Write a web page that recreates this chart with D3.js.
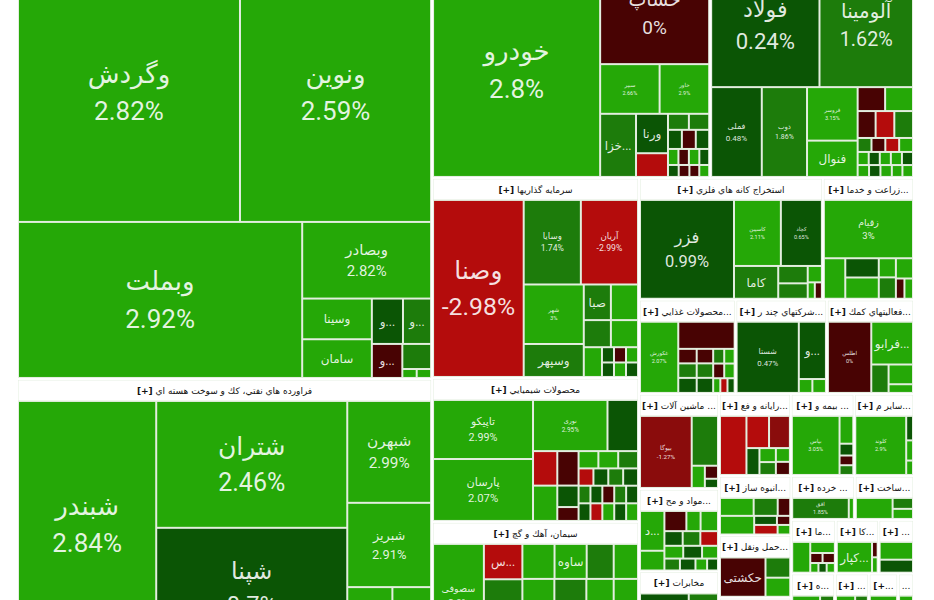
<!DOCTYPE html>
<html>
<head>
<meta charset="utf-8">
<script src="https://cdn.jsdelivr.net/npm/d3@7"></script>
<style>
  html, body { margin: 0; padding: 0; background: #fff; }
  svg { display: block; }
</style>
</head>
<body>
<svg id="map" width="934" height="600"></svg>
<script>
// sectors (TSE industry groups), index = position in these arrays
var sectorNames = [
  "بانكها و موسسات اعتباري", "فراورده هاي نفتي، كك و سوخت هسته اي", "خودرو و ساخت قطعات", "فلزات اساسي",
  "سرمايه گذاريها", "محصولات شيميايي", "سيمان، آهك و گچ", "استخراج كانه هاي فلزي", "زراعت و خدمات وابسته",
  "محصولات غذايي و آشاميدني", "شركتهاي چند رشته اي صنعتي", "فعاليتهاي كمكي به نهادهاي مالي",
  "ماشين آلات و دستگاههاي برقي", "مواد و محصولات دارويي", "مخابرات", "رايانه و فعاليتهاي وابسته",
  "بيمه و صندوق بازنشستگي", "ساير محصولات كاني غيرفلزي", "انبوه سازي، املاك و مستغلات",
  "حمل ونقل، انبارداري و ارتباطات", "خدمات فني و مهندسي", "خرده فروشي", "ساخت محصولات فلزي",
  "ماشين آلات و تجهيزات", "كاشي و سراميك", "لاستيك و پلاستيك", "هتل و رستوران", "استخراج نفت",
  "منسوجات", "انتشار، چاپ و تكثير"
];
var sectorCaps = [1818, 1121, 659, 483, 414, 298, 263, 224, 111, 91, 86, 82, 76, 66, 62, 59, 52, 49,
  43, 45, 37, 28, 26, 24, 23, 19, 33, 25.5, 22, 12];
// nested groups of sectors; every level flips between columns and rows
var sectorNesting = [[0, 1], [[2, 3], [[4, 5, 6], [[7, 8], [9, 10, 11], [[12, 13, 14], [[15, 16, 17], [[18, 19, 20], [[21, 22], [23, 24, 25], [26, 27, 28, 29]]]]]]]]];

// tickers of each sector (names missing = unlabelled small symbols)
var tickerNames = [
  ["وگردش", "ونوین", "وبملت", "وبصادر", "وسینا", "سامان", "وسپه", "وکارآفر", "وسرمد"],
  ["شبندر", "شتران", "شپنا", "شبهرن", "شبریز"],
  ["خودرو", "حساپ", "سیپر", "خاور", "خزامیا", "ورنا"],
  ["فولاد", "آلومینا", "فملی", "ذوب", "فروسر", "فنوال"],
  ["وصنا", "وسایا", "آریان", "شهر", "وسپهر", "صبا"],
  ["تاپیکو", "پارسان", "نوری"],
  ["سصوفی", "سصفها", "سشرق", "", "ساوه"],
  ["فزر", "کاسپین", "کچاد", "کاما"],
  ["زقیام"],
  ["غکورش"],
  ["شستا", "ونیکی"],
  ["اطلس", "فرابورس"],
  ["بیوگا"],
  ["دسبحا"],
  ["اخابر"],
  [],
  ["بپاس"],
  ["کلوند"],
  [],
  ["حکشتی"],
  [],
  ["افق"],
  [],
  [],
  ["کپارس"],
  [], [], [], [], []
];
var tickerCaps = [
  [582, 501, 449, 100, 28.7, 27.3, 14.3, 12.9, 10.5, 7.3, 1.3, 1.3],
  [348, 247, 234, 87, 72, 28, 24],
  [363, 112, 30, 25, 23, 12.8, 7.7, 3.4, 3.3, 2.7, 2.7, 2.6, 1.7, 1.7, 1.7, 1.6, 1.3, 1.3, 1.2, 1.2],
  [139, 120, 47, 42, 28, 19, 6.8, 6.9, 5, 5.2, 5.2, 2, 2, 2, 2, 1.5, 1.5, 1.5, 1.5, 1.5, 1.4, 1.4, 1.4, 1.3, 1.3],
  [166, 50, 50, 37, 20.5, 10, 10, 7.6, 7.6, 5.6, 1.9, 1.8, 1.9, 1.8, 1.9, 1.8],
  [62, 65, 40, 16.4, 8.8, 9, 7.7, 4.8, 3.1, 3.6, 3.6, 3.6, 2.7, 2.7, 2.7, 2.7, 2.2, 2.2, 2.2, 2.2, 2.2, 2.2, 2.2, 2.2, 2.2, 2.2],
  [56, 14.4, 28, 11.9, 11.9, 10, 9, 23.4, 23.4, 20, 17.8],
  [96, 32, 28, 15, 5.3, 4.7, 2.4, 1.2, 1.2],
  [54, 9, 6.7, 7.4, 3.4, 3.8, 3.6, 1.8, 1.8],
  [28.5, 16, 2.8, 2.8, 2.9, 2.5, 2.5, 2.6, 1.7, 1.6, 1.7, 1.6, 1.1, 1.1, 1.1],
  [47, 16.5, 2, 2],
  [32, 18.5, 5.1, 5, 2.2],
  [37, 13, 2.9, 1.7, 1.2],
  [10.5, 5.2, 4.8, 3.1, 3.8, 2.9, 2.8, 2.8, 2.6, 2.6, 2.2, 2, 2, 1.5, 1.4],
  [30, 10, 8],
  [17, 7.9, 7.3, 3.8, 2.5, 2.3, 2.1, 2],
  [29.5, 4, 1.7, 1.4, 1.4],
  [30.7, 1.7, 1.4, 1],
  [7, 5, 2.6, 7.4, 2.4, 1.4, 2.6, 1.4],
  [19.7, 5.5, 5.2],
  [15, 8],
  [13.3, 1.2],
  [9, 2.6, 2.4],
  [6.3, 3.1, 1.4, 1.4, 0.9, 0.9, 0.9],
  [12.5, 1, 1],
  [6.7, 4.9],
  [20, 10],
  [12, 8],
  [10, 6],
  [5]
];
var tickerChanges = [
  [2.82, 2.59, 2.92, 2.82, 2.9, 2.8, 0.6, 1.6, 0, 1.5, 2.7, 2.7],
  [2.84, 2.46, 0.7, 2.99, 2.91, 2.6, 2.7],
  [2.8, 0, 2.66, 2.9, 1.7, 0.6, -2.9, 1.6, 1.6, 0.6, 0, 0.6, 2.6, 0, 2.6, 0.6, 0.6, 0, 0, 2.5],
  [0.24, 1.62, 0.48, 1.86, 3.15, 2.6, 0, 2.7, 0, -2.9, 1.6, 1.6, 0, -2.9, 2.7, 2.7, 0.6, 2.7, 2.7, 0.6, 2.7, 0.6, 2.7, 2.7, 2.7],
  [-2.98, 1.74, -2.99, 3, 1.7, 1.7, 2.8, 1.6, 2.8, 2.8, 0.6, 0.6, 0, 2.7, 2.7, 0.6],
  [2.99, 2.07, 2.95, 0.6, -2.9, 2.8, 0, 0.6, 0, 2.8, 2.8, 1.6, -2.9, 0.6, 1.6, 0.6, 1.6, 0.6, 0, 1.6, 0.6, 0.6, -2.9, 2.8, 0.6, 2.8],
  [2.9, -2.9, 1.7, 2.8, 2.8, 1.7, 2.8, 2.6, 1.6, 2.7, 2.8],
  [0.99, 2.11, 0.65, 1.7, 1.6, 1.6, 2.6, 2.6, 0],
  [3, 2.8, 0.6, 2.8, 2.7, 1.6, 2.5, 0, 2.7],
  [2.07, 0, 0, 1.6, 0.6, 0, 1.6, 0.6, 1.6, 2.7, 0, 2.7, 2.7, -2.9, 0.6],
  [0.47, 0.6, 2.7, 2.7],
  [0, 2.8, 1.6, 2.8, 2.8],
  [-1.27, 1.7, 2.8, 0, 0.6],
  [2.8, 2.7, 0, 2.8, 2.8, 0.6, 1.6, -2.9, 2.8, 0.6, 2.5, 1.6, 0.6, 2.5, 0.6],
  [0.6, 1.7, 2.8],
  [-2.9, -2.9, -1, 0.6, 2.8, 1.7, 2.8, 0],
  [3.05, 2.8, 0.6, 0, 1.6],
  [2.9, 0.6, 2.8, 2.8],
  [2.7, 1.7, -0.3, 2.8, 0.6, 0, -2.9, 2.6],
  [0, 1.7, 2.8],
  [2.8, 1.7],
  [1.85, 2.8],
  [2.8, 1.7, 2.8],
  [2.8, 2.8, 0, 0, 2.8, 0.6, 2.8],
  [2.8, 0, 2.8],
  [2.8, 0.6],
  [2.8, 1.7],
  [2.8, 1.7],
  [2.8, 0.6],
  [2.8]
];
// how the tickers of each sector are grouped (rows first, then columns, alternating)
var tickerNesting = [
  [[0, 1], [2, [3, [[4, 5], [[6, 7], [8, [9, [10, 11]]]]]]]],
  [[0, [1, 2], [3, 4, [5, 6]]]],
  [[0, [1, [2, 3], [4, [5, 6], [[7, 8], [9, 10, 11], [12, 13, 14, 15], [16, 17, 18, 19]]]]]],
  [[0, 1], [2, 3, [4, 5], [[6, 7], [8, 9, 10], [11, 12, 13, 14], [15, 16, 17, 18, 19], [20, 21, 22, 23, 24]]]],
  [[0, [[1, 2], [[3, 4], [[5, 6], [7, 8], [9, [10, 11], [12, 13], [14, 15]]]]]]],
  [[[0, 1], [[2, 3], [[4, 5], [6, 7, 8], [[9, 10, 11], [12, 13, 14, 15], [16, 17, 18, 19, 20], [21, 22, 23, 24, 25]]]]]],
  [[0, [1, 2], [[3, 4, 5, 6], [7, 8, 9, 10]]]],
  [[0, [[1, 2], [3, [4, 5], [6, [7, 8]]]]]],
  [0, [1, [2, 3], [4, 5], [6, [7, 8]]]],
  [[0, [1, [[2, 3, 4], [5, 6, 7], [[8, 9], [10, 11], [12, 13, 14]]]]]],
  [[0, [1, [2, 3]]]],
  [[0, [1, [2, [3, 4]]]]],
  [[0, [1, [2, [3, 4]]]]],
  [[[0, 1], [[2, 3, 4], [5, 6, 7], [8, 9, 10], [11, 12, 13, 14]]]],
  [[0, [1, 2]]],
  [[0, [[1, 2], [3, [4, 5], [6, 7]]]]],
  [[0, [1, 2, 3, 4]]],
  [[0, [1, 2, 3]]],
  [[0, 1, 2], [3, [[4, 5], [6, 7]]]],
  [[0, [1, 2]]],
  [[0, 1]],
  [[0, 1]],
  [[0, [1, 2]]],
  [[0, [1, [2, 3], [4, 5, 6]]]],
  [[0, [1, 2]]],
  [0, 1],
  [[0, 1]],
  [[0, 1]],
  [0, 1],
  [0]
];

var X0 = 18, Y0 = -58, MAP_W = 895, MAP_H = 706, HEAD = 21;
var labelFont = "Roboto, 'DejaVu Sans', sans-serif";

var color = d3.scaleThreshold()
  .domain([-2, -0.5, 0.1, 1.2, 2])
  .range(["#b40c0c", "#8a0c0c", "#480303", "#0b5505", "#1d7c0b", "#25a807"]);

function nestNode(spec, leafOf) {
  if (Array.isArray(spec)) return { children: spec.map(function(s) { return nestNode(s, leafOf); }) };
  return leafOf(spec);
}

var svg = d3.select("#map");
svg.append("rect").attr("width", 934).attr("height", 600).attr("fill", "#fff");
var map = svg.append("g").attr("transform", "translate(" + X0 + "," + Y0 + ")");

var topRoot = d3.hierarchy(nestNode(sectorNesting, function(i) { return { sector: i, cap: sectorCaps[i] }; }))
  .sum(function(d) { return d.cap || 0; });

d3.treemap()
  .size([MAP_W, MAP_H])
  .paddingInner(2)
  .tile(function(node, x0, y0, x1, y1) {
    (node.depth % 2 ? d3.treemapSlice : d3.treemapDice)(node, x0, y0, x1, y1);
  })(topRoot);

topRoot.leaves().forEach(drawSector);

function drawSector(s) {
  var i = s.data.sector;
  var w = s.x1 - s.x0, h = s.y1 - s.y0;
  var g = map.append("g").attr("transform", "translate(" + s.x0 + "," + s.y0 + ")");

  g.append("rect").attr("width", w).attr("height", h).attr("fill", "#e3eedf");
  g.append("rect").attr("x", 0.5).attr("y", 0.5).attr("width", w - 1).attr("height", HEAD - 1).attr("fill", "#fff");
  // headers scrolled above the window are not drawn
  if (s.y0 + Y0 + HEAD > 0) headerText(g, sectorNames[i], w);

  var root = d3.hierarchy(nestNode(tickerNesting[i], function(j) {
      return { name: tickerNames[i][j] || "", cap: tickerCaps[i][j], change: tickerChanges[i][j] };
    }))
    .sum(function(d) { return d.cap || 0; });

  d3.treemap()
    .size([w, h - HEAD])
    .paddingInner(2)
    .paddingOuter(function(n) { return n.depth ? 0 : 1; })
    .tile(function(node, x0, y0, x1, y1) {
      (node.depth % 2 ? d3.treemapDice : d3.treemapSlice)(node, x0, y0, x1, y1);
    })(root);

  var cells = g.append("g")
    .attr("transform", "translate(0," + HEAD + ")")
    .selectAll("g")
    .data(root.leaves())
    .enter().append("g")
    .attr("transform", function(d) { return "translate(" + d.x0 + "," + d.y0 + ")"; });

  cells.append("rect")
    .attr("width", function(d) { return Math.max(0, d.x1 - d.x0); })
    .attr("height", function(d) { return Math.max(0, d.y1 - d.y0); })
    .attr("fill", function(d) { return color(d.data.change); });

  cells.each(function(d) { cellLabel(d3.select(this), d); });
}

function headerText(g, name, w) {
  var t = g.append("text")
    .attr("x", w / 2)
    .attr("y", 14)
    .attr("text-anchor", "middle")
    .attr("font-family", "'DejaVu Sans', sans-serif")
    .attr("font-size", 9)
    .attr("fill", "#111");
  var full = "[+] " + name;
  for (var n = full.length; n >= 0; n--) {
    var s = n === full.length ? full : full.slice(0, n) + "...";
    var b = Math.min(3, n);
    t.selectAll("tspan").remove();
    t.append("tspan").attr("font-weight", "bold").text(s.slice(0, b));
    t.append("tspan").text(s.slice(b));
    if (t.node().getComputedTextLength() <= w - 4) break;
  }
}

function cellLabel(sel, d) {
  var name = d.data.name;
  if (!name) return;
  var w = d.x1 - d.x0, h = d.y1 - d.y0;
  var pct = (+d.data.change.toFixed(2)) + "%";
  var fs = Math.min(26, 0.29 * Math.sqrt(w * h) - 10.9, w * 0.28, h * 0.2);

  if (fs < 8) {
    if ((h >= 45 && w >= 36) || (w >= 50 && h >= 16 && h < 24)) {
      fs = Math.max(5.5, fs);
    } else if (w >= 20 && h >= 24) {
      var t = sel.append("text")
        .attr("x", w / 2)
        .attr("y", h / 2 + 4.5)
        .attr("text-anchor", "middle")
        .attr("font-family", labelFont)
        .attr("font-size", 12)
        .attr("fill", "#fff")
        .attr("fill-opacity", 0.88)
        .text(name);
      var s = name;
      while (t.node().getComputedTextLength() > w - 4 && s.length > 1) {
        s = s.slice(0, -1);
        t.text(s + "...");
      }
      return;
    } else {
      return;
    }
  }

  var lbl = sel.append("text")
    .attr("text-anchor", "middle")
    .attr("font-family", labelFont)
    .attr("font-size", fs)
    .attr("fill", "#fff")
    .attr("fill-opacity", 0.88);
  lbl.append("tspan").attr("x", w / 2).attr("y", h / 2 - 0.38 * fs).text(name);
  lbl.append("tspan").attr("x", w / 2).attr("y", h / 2 + 1.07 * fs).text(pct);
}
</script>
</body>
</html>
